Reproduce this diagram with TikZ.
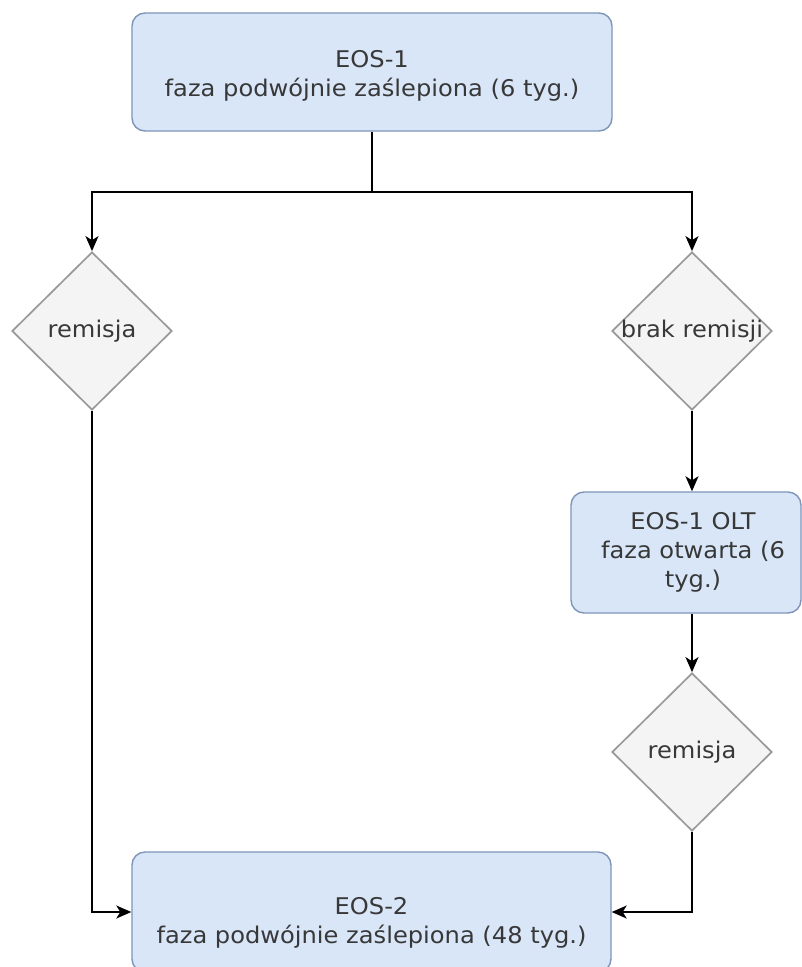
\documentclass[tikz,border=0pt]{standalone}
\usepackage{fontspec}
\setmainfont{DejaVu Sans}[FakeStretch=1.05]
\usetikzlibrary{shapes.geometric,arrows.meta}
\definecolor{boxfill}{HTML}{D8E6F8}
\definecolor{boxline}{HTML}{7F95B8}
\definecolor{diafill}{HTML}{F4F4F4}
\definecolor{dialine}{HTML}{999999}
\definecolor{txt}{HTML}{383838}
\tikzset{
  phase/.style={draw=boxline, fill=boxfill, line width=1.4pt, rounded corners=13pt,
    inner sep=0pt},
  decision/.style={diamond, draw=dialine, fill=diafill, line width=1.7pt, aspect=1,
    minimum width=160pt, minimum height=158pt, inner sep=0pt},
  label text/.style={text=txt, inner sep=0pt, align=center},
  flow/.style={draw=black, line width=1.6pt, -{Stealth[length=15pt,width=13pt,inset=4pt]}},
  plain/.style={draw=black, line width=1.6pt}
}
\begin{document}
\begin{tikzpicture}[x=1pt, y=-1pt, font=\fontsize{23}{29}\selectfont]
\useasboundingbox[fill=white] (0,0) rectangle (802,967);

% phase boxes
\node[phase, minimum width=480pt, minimum height=118pt] (eos1) at (372,72) {};
\node[label text] (eos1t) at ([yshift=-4pt]eos1.center)
  {EOS-1\\faza podwójnie zaślepiona (6 tyg.)};
\node[phase, minimum width=230pt, minimum height=121pt] (olt) at (686,552.5) {};
\node[label text] (oltt) at ([xshift=7pt]olt.center)
  {EOS-1 OLT\\faza otwarta (6\\tyg.)};
\node[phase, minimum width=479pt, minimum height=120pt] (eos2) at (371.5,912) {};
\node[label text] (eos2t) at ([yshift=-11pt]eos2.center)
  {EOS-2\\faza podwójnie zaślepiona (48 tyg.)};

% decisions
\node[decision] (remL) at (92,331) {};
\node[label text] (remLt) at (remL) {remisja};
\node[decision] (brak) at (692,331) {};
\node[label text] (brakt) at (brak) {brak remisji};
\node[decision] (remR) at (692,752) {};
\node[label text] (remRt) at (remR) {remisja};

% connectors
\coordinate (split) at (372,192);
\path[plain] (eos1.south) -- (split);
\path[flow] (split) -| (remL.north);
\path[flow] (split) -| (brak.north);
\path[flow] (brak.south) -- (brak.south |- olt.north);
\path[flow] (brak.south |- olt.south) -- (remR.north);
\path[flow] (remL.south) |- (eos2.west);
\path[flow] (remR.south) |- (eos2.east);
\end{tikzpicture}
\end{document}
